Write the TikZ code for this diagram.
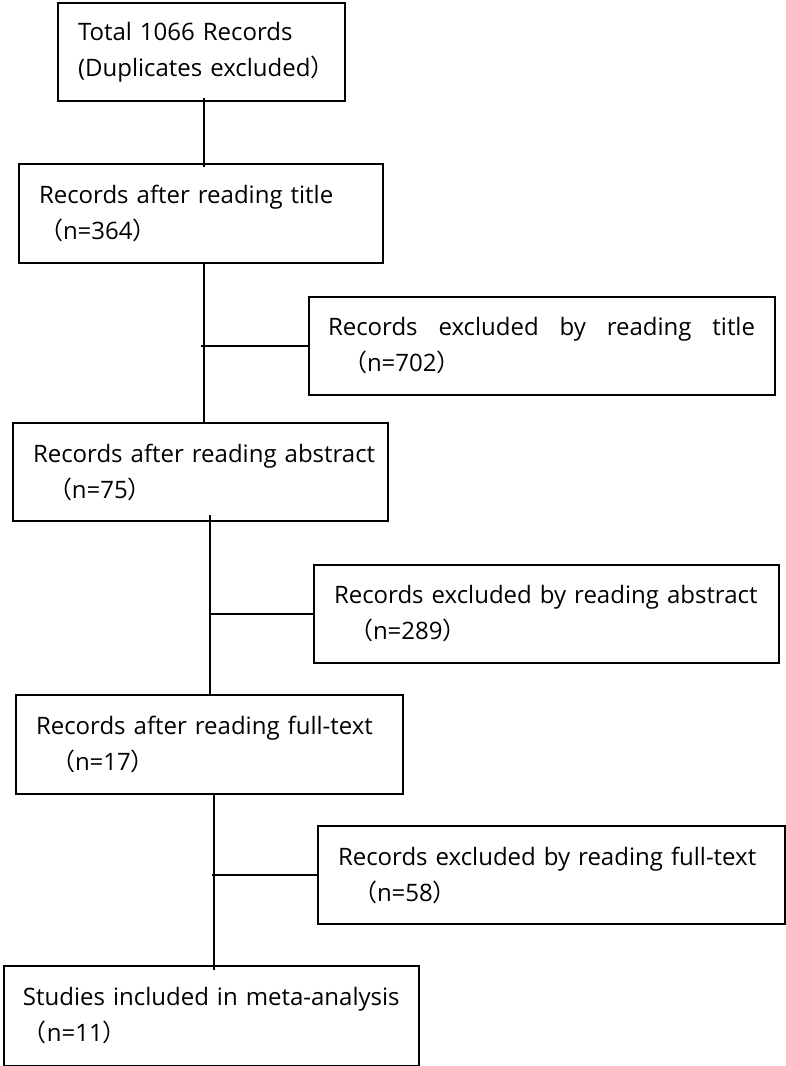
\documentclass[tikz,border=0pt]{standalone}
\usepackage{fontspec}
\setmainfont{Open Sans}
\newfontfamily\cjk{Noto Sans CJK SC}
\newcommand\lpar{{\cjk （}}
\newcommand\rpar{{\cjk ）}}

\begin{document}
\begin{tikzpicture}[x=1pt,y=-1pt,line width=2pt]
  \tikzset{rec/.style={draw,rectangle,anchor=north west,inner sep=0pt,align=left,
    font=\fontsize{24}{36}\selectfont}}
  \useasboundingbox (0,0) rectangle (786,1066);
  \node [rec,minimum width=287pt,minimum height=98pt,text width=247pt] (total) at (57,2)
    {\mbox{Total 1066 Records}\\\mbox{(Duplicates excluded\rpar}};
  \node [rec,minimum width=364pt,minimum height=99pt,text width=324pt] (title) at (18,163)
    {\mbox{Records after reading title}\\\lpar n=364\rpar};
  \node [rec,minimum width=466pt,minimum height=98pt,text width=428pt] (extitle) at (308,296)
    {\hbox to 427pt{Records\hfill excluded\hfill by\hfill reading\hfill title}\\\hspace*{15pt}\lpar n=702\rpar};
  \node [rec,minimum width=375pt,minimum height=98pt,text width=335pt] (abstract) at (12,422)
    {\mbox{Records after reading abstract}\\\hspace*{15pt}\lpar n=75\rpar};
  \node [rec,minimum width=465pt,minimum height=98pt,text width=425pt] (exabstract) at (313,564)
    {\mbox{Records excluded by reading abstract}\\\hspace*{15pt}\lpar n=289\rpar};
  \node [rec,minimum width=387pt,minimum height=99pt,text width=347pt] (fulltext) at (15,694)
    {\mbox{Records after reading full-text}\\\hspace*{15pt}\lpar n=17\rpar};
  \node [rec,minimum width=467pt,minimum height=98pt,text width=427pt] (exfulltext) at (317,825)
    {\mbox{Records excluded by reading full-text}\\\hspace*{15pt}\lpar n=58\rpar};
  \node [rec,minimum width=415pt,minimum height=100pt,text width=377pt] (included) at (3,965)
    {\mbox{Studies included in meta-analysis}\\\lpar n=11\rpar};
  \draw ([xshift=2pt,yshift=4pt]total.south) -- ([xshift=2pt,yshift=-4pt]total.south |- title.north);
  \draw ([xshift=3pt]title.south) -- ([xshift=3pt]title.south |- abstract.north);
  \draw (extitle.west) -- (extitle.west -| abstract.north);
  \draw ([yshift=7pt]abstract.south -| fulltext.north) -- (fulltext.north);
  \draw (exabstract.west) -- (exabstract.west -| fulltext.north);
  \draw ([xshift=4pt]fulltext.south) -- ([xshift=4pt,yshift=-5pt]fulltext.south |- included.north);
  \draw (exfulltext.west) -- (exfulltext.west -| included.north);
\end{tikzpicture}
\end{document}
